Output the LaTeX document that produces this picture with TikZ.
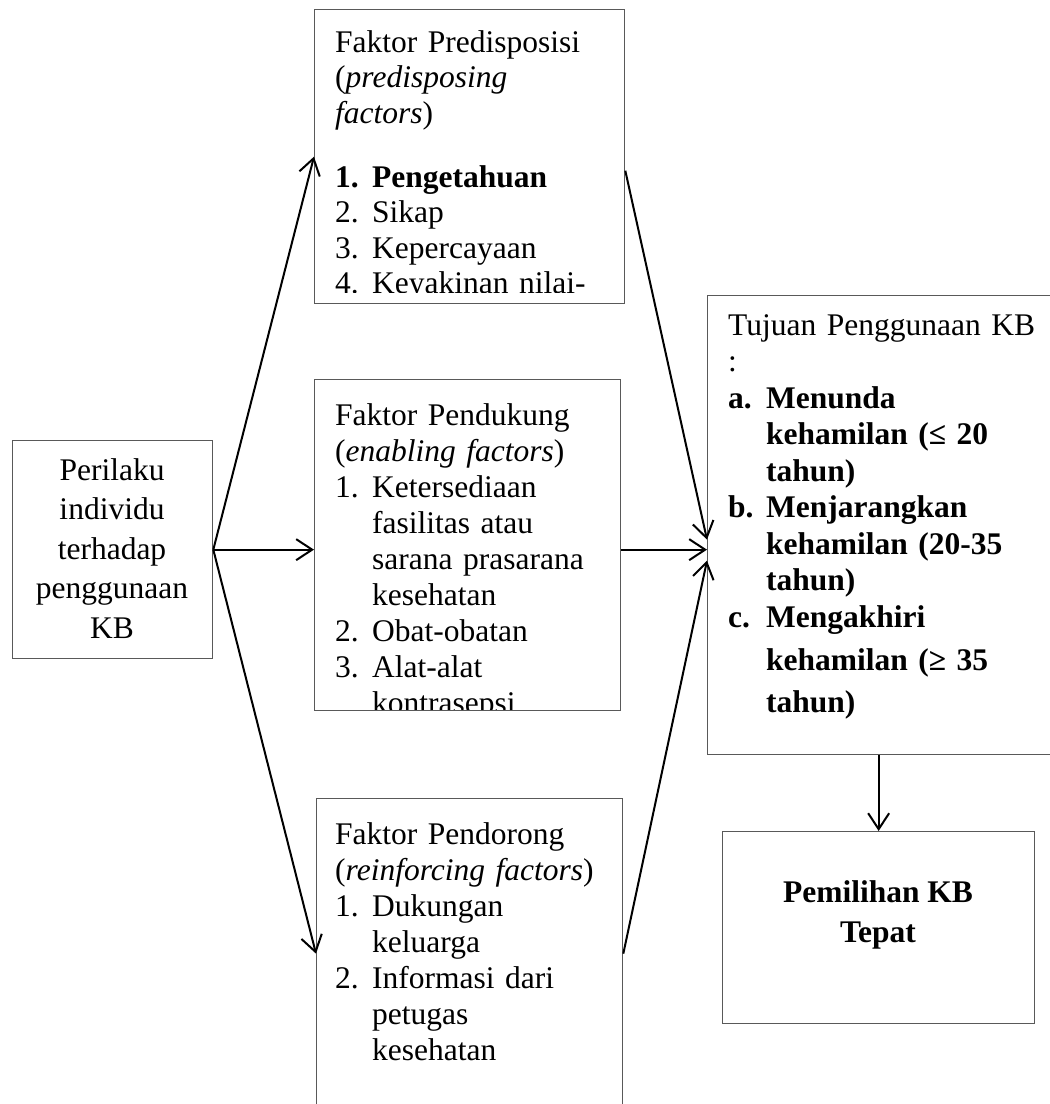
\documentclass[tikz,border=0pt]{standalone}
\usepackage{fontspec}
\setmainfont{Liberation Serif}
\usetikzlibrary{arrows.meta,calc}
\newcommand\fsz[2]{\fontsize{#1}{#2}\selectfont}
\newcommand\itmL[2]{\makebox[37pt][l]{#1}#2}
\newcommand\cntL{\hspace*{37pt}}
\newcommand\itmR[2]{\makebox[38pt][l]{#1}#2}
\newcommand\cntR{\hspace*{38pt}}
\begin{document}
\begin{tikzpicture}[x=1pt,y=-1pt,
  box/.style={draw=black!65,line width=1.3pt,inner sep=0pt,anchor=north west},
  arr/.style={line width=2pt,-{Straight Barb[length=16pt,width=21pt]}},
  txt/.style={inner sep=0pt,anchor=north west,align=left,text width=340pt}
]
\useasboundingbox (0,0) rectangle (1050,1104);
\fill[white] (0,0) rectangle (1050,1104);
\clip (0,0) rectangle (1050,1104);

% boxes
\node[box,minimum width=200pt,minimum height=218pt] (left) at (12,440) {};
\node[box,minimum width=310pt,minimum height=294pt] (top) at (314,9) {};
\node[box,minimum width=306pt,minimum height=331pt] (mid) at (314,379) {};
\node[box,minimum width=306pt,minimum height=310pt] (bot) at (316,798) {};
\node[box,minimum width=360pt,minimum height=459pt] (goal) at (707,295) {};
\node[box,minimum width=312pt,minimum height=192pt] (choice) at (722,831) {};

% left text
\node[inner sep=0pt,anchor=north,align=center,font=\fsz{31.5}{39.5}] (lefttxt) at (112,452.35)
  {\strut Perilaku\\individu\\terhadap\\penggunaan\\KB};

% top text (clipped)
\begin{scope}
\clip (top.north west) rectangle ($(top.south east)+(0,-11.5)$);
\node[txt,font=\fsz{31.5}{35.5}] (toptxt) at (335,27.15)
  {\strut Faktor Predisposisi\\
   (\textit{predisposing}\\
   \textit{factors})\\[28.5pt]
   \textbf{\itmL{1.}{Pengetahuan}}\\
   \itmL{2.}{Sikap}\\
   \itmL{3.}{Kepercayaan}\\
   \itmL{4.}{Keyakinan nilai-}};
\end{scope}

% middle text (clipped)
\begin{scope}
\clip (mid.north west) rectangle ($(mid.south east)+(0,-2)$);
\node[txt,font=\fsz{31.5}{36}] (midtxt) at (335,399.8)
  {\strut Faktor Pendukung\\
   (\textit{enabling factors})\\
   \itmL{1.}{Ketersediaan}\\
   \cntL fasilitas atau\\
   \cntL sarana prasarana\\
   \cntL kesehatan\\
   \itmL{2.}{Obat-obatan}\\
   \itmL{3.}{Alat-alat}\\
   \cntL kontrasepsi};
\end{scope}

% bottom text
\node[txt,font=\fsz{31.5}{36}] (bottxt) at (335,818.8)
  {\strut Faktor Pendorong\\
   (\textit{reinforcing factors})\\
   \itmL{1.}{Dukungan}\\
   \cntL keluarga\\
   \itmL{2.}{Informasi dari}\\
   \cntL petugas\\
   \cntL kesehatan};

% goal text
\node[txt,font=\fsz{31.5}{36.5}] (goaltxt) at (728,309.45)
  {\strut Tujuan Penggunaan KB\\
   :\\
   \textbf{\itmR{a.}{Menunda}}\\
   \textbf{\cntR kehamilan (≤ 20}\\
   \textbf{\cntR tahun)}\\
   \textbf{\itmR{b.}{Menjarangkan}}\\
   \textbf{\cntR kehamilan (20-35}\\
   \textbf{\cntR tahun)}\\
   \textbf{\itmR{c.}{Mengakhiri}}\\[6.5pt]
   \textbf{\cntR kehamilan (≥ 35}\\[5.5pt]
   \textbf{\cntR tahun)}};

% choice text
\node[inner sep=0pt,anchor=north,align=center,font=\fsz{31.5}{40}\bfseries] (choicetxt) at (878,874)
  {\strut Pemilihan KB\\Tepat};

% connectors
\draw[arr] (left.east) -- (top.west);
\draw[arr] (left.east) -- (left.east -| mid.west);
\draw[arr] (left.east) -- (bot.west);
\draw[arr] ($(top.east)+(0,14)$) -- ($(goal.west)+(0,14.5)$);
\draw[arr] (left.east -| mid.east) -- (left.east -| goal.west);
\draw[arr] (bot.east) -- ($(goal.west)+(0,35.5)$);
\draw[arr] (goal.south -| choice.north) -- (choice.north);
\end{tikzpicture}
\end{document}
